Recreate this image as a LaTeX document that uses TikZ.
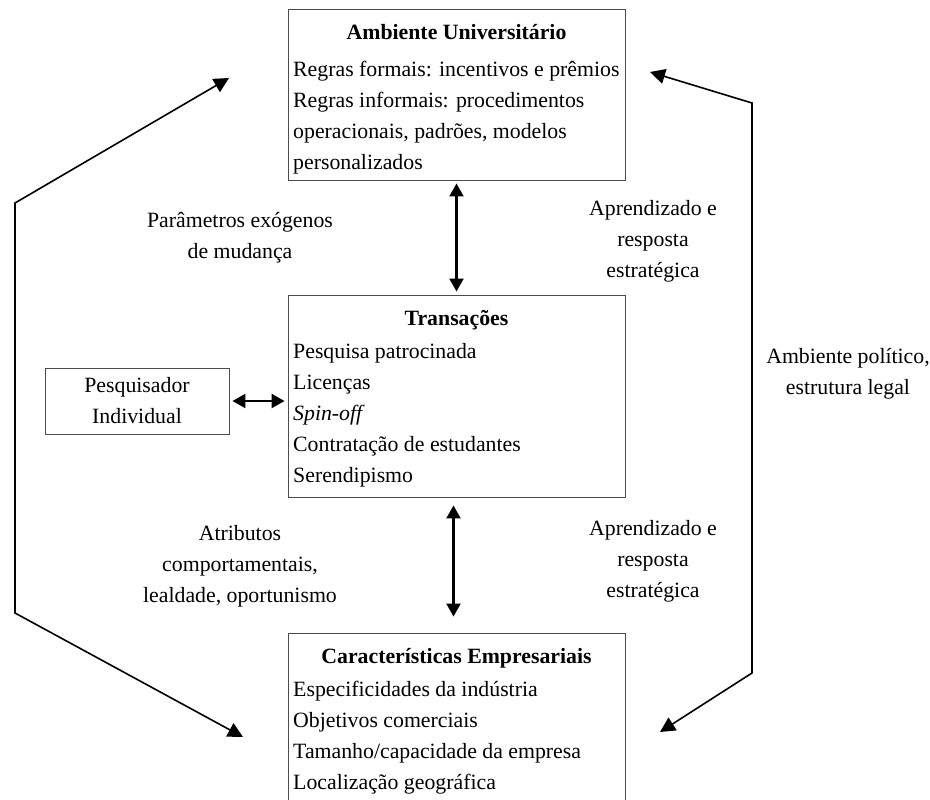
\documentclass[tikz,border=0pt]{standalone}
\usepackage{fontspec}
\setmainfont{Liberation Serif}
\usetikzlibrary{arrows.meta,positioning}

\newcommand{\diagfont}{\fontsize{21.8}{31}\selectfont}

\tikzset{
  box/.style={draw=black!70, line width=0.9pt, minimum width=337pt, inner sep=0pt},
  boxtitle/.style={font=\diagfont\bfseries, inner sep=0pt, anchor=base},
  boxbody/.style={font=\diagfont, align=left, anchor=north west, inner sep=0pt},
  lbl/.style={font=\diagfont, align=center, inner sep=0pt},
  link/.style={line width=2.2pt, {Triangle[length=13pt,width=14pt]}-{Triangle[length=13pt,width=14pt]}},
  loop/.style={line width=1.6pt, {Triangle[length=15pt,width=15pt]}-{Triangle[length=15pt,width=15pt]}},
}

\begin{document}
\begin{tikzpicture}[x=1pt, y=-1pt]

		\useasboundingbox (0,0) rectangle (930,800);
		\clip (0,0) rectangle (930,800);

		% the three main boxes
		\node[box, minimum height=171pt] (univ) at (456.5, 94.5) {};
		\node[box, minimum height=202pt] (trans) at (456.5, 396) {};
		\node[box, minimum height=180pt] (emp) at (456.5, 723) {};

		\node[boxtitle] (univT) at (456.5, 40) {Ambiente Universitário};
		\node[boxbody] (univB) at (293, 61) {Regras formais: incentivos e prêmios\\
			Regras informais: procedimentos\\
			operacionais, padrões, modelos\\
			personalizados};

		\node[boxtitle] (transT) at (456.5, 325) {Transações};
		\node[boxbody] (transB) at (293, 343) {Pesquisa patrocinada\\
			Licenças\\
			\textit{Spin-off}\\
			Contratação de estudantes\\
			Serendipismo};

		\node[boxtitle] (empT) at (456.5, 663) {Características Empresariais};
		\node[boxbody] (empB) at (293, 681) {Especificidades da indústria\\
			Objetivos comerciais\\
			Tamanho/capacidade da empresa\\
			Localização geográfica};

		% researcher box
		\node[box, minimum width=184pt, minimum height=66pt, font=\diagfont, align=center]
			(pesq) at (137, 401) {Pesquisador\\Individual};

		% labels between the boxes
		\node[lbl] (exo) at (240, 238) {Parâmetros exógenos\\de mudança};
		\node[lbl] (apr1) at (653, 241) {Aprendizado e\\resposta\\estratégica};
		\node[lbl] (atr) at (240, 566) {Atributos\\comportamentais,\\lealdade, oportunismo};
		\node[lbl] (apr2) at (653, 561) {Aprendizado e\\resposta\\estratégica};
		\node[lbl] (pol) at (848, 374) {Ambiente político,\\estrutura legal};

		% vertical and horizontal links
		\draw[link, shorten <=3pt, shorten >=3pt] (univ.south) -- (trans.north);
		\draw[link, shorten <=8pt, shorten >=16pt] ([xshift=-3pt]trans.south) -- ([xshift=-3pt]emp.north);
		\draw[link, shorten <=3pt, shorten >=3pt] (pesq.east) -- (pesq.east -| trans.west);

		% outer loops
		\coordinate (lt) at (229, 78);
		\coordinate (lb) at (243, 737);
		\coordinate (rt) at (650, 72);
		\coordinate (rb) at (660, 732);
		\draw[loop] (lb) -- (15, 613) -- (15, 203) -- (lt);
		\draw[loop] (rt) -- (752, 103) -- (752, 673) -- (rb);

	\end{tikzpicture}
\end{document}
